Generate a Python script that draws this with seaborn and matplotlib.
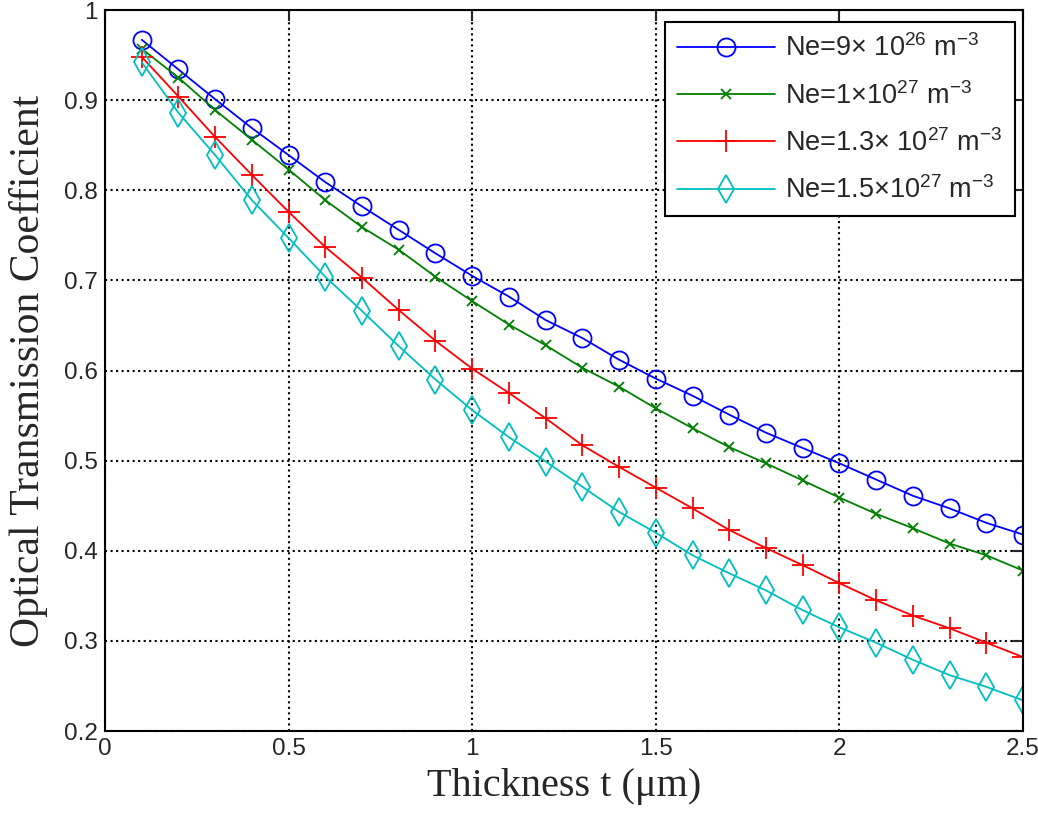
import matplotlib
matplotlib.use("Agg")
import matplotlib.pyplot as plt
import seaborn as sns
import pandas as pd

# thickness in micrometers
thickness = [0.1, 0.2, 0.3, 0.4, 0.5, 0.6, 0.7, 0.8, 0.9, 1.0, 1.1, 1.2, 1.3,
             1.4, 1.5, 1.6, 1.7, 1.8, 1.9, 2.0, 2.1, 2.2, 2.3, 2.4, 2.5]

ne_9e26 = [0.967, 0.934, 0.901, 0.869, 0.839, 0.809, 0.782, 0.756, 0.730, 0.705,
           0.682, 0.656, 0.636, 0.612, 0.591, 0.572, 0.551, 0.531, 0.514, 0.497,
           0.479, 0.461, 0.447, 0.431, 0.418]
ne_1e27 = [0.957, 0.925, 0.889, 0.856, 0.823, 0.789, 0.759, 0.734, 0.704, 0.677,
           0.651, 0.628, 0.603, 0.582, 0.558, 0.536, 0.515, 0.497, 0.478, 0.459,
           0.441, 0.425, 0.408, 0.395, 0.378]
ne_13e27 = [0.948, 0.904, 0.859, 0.817, 0.776, 0.737, 0.703, 0.667, 0.633, 0.602,
            0.575, 0.547, 0.517, 0.493, 0.470, 0.447, 0.423, 0.403, 0.384, 0.364,
            0.345, 0.328, 0.314, 0.298, 0.282]
ne_15e27 = [0.942, 0.886, 0.839, 0.789, 0.747, 0.704, 0.666, 0.627, 0.590, 0.556,
            0.526, 0.499, 0.471, 0.443, 0.420, 0.395, 0.375, 0.356, 0.334, 0.315,
            0.298, 0.279, 0.262, 0.249, 0.234]

labels = [r"Ne=9$\times$ 10$^{26}$ m$^{-3}$",
          r"Ne=1$\times$10$^{27}$ m$^{-3}$",
          r"Ne=1.3$\times$ 10$^{27}$ m$^{-3}$",
          r"Ne=1.5$\times$10$^{27}$ m$^{-3}$"]

sns.set_style("white")
plt.rcParams["font.family"] = ["Liberation Sans", "DejaVu Sans"]
plt.rcParams["mathtext.fontset"] = "custom"
plt.rcParams["mathtext.rm"] = "Liberation Sans"

fig = plt.figure(figsize=(10.38, 8.21), dpi=100)
ax = fig.add_axes([105 / 1038, 1 - 731 / 821, 918 / 1038, 721 / 821])

# data, colour, marker, size, open face?
series = [
    (ne_9e26, "#0000ff", "o", 13, True),
    (ne_1e27, "#008000", "x", 7, False),
    (ne_13e27, "#ff0000", "+", 16, False),
    (ne_15e27, "#00bfbf", "d", 14, True),
]

for (vals, col, mk, ms, hollow), lab in zip(series, labels):
    df = pd.DataFrame({"t": thickness, "T": vals})
    sns.lineplot(data=df, x="t", y="T", ax=ax, color=col, marker=mk,
                 markersize=ms, markeredgewidth=1.3, linewidth=1.3,
                 markeredgecolor=col,
                 markerfacecolor="none" if hollow else col,
                 label=lab)

ax.set_xlim(0, 2.5)
ax.set_ylim(0.2, 1.0)
ax.set_xticks([0, 0.5, 1, 1.5, 2, 2.5])
ax.set_xticklabels(["0", "0.5", "1", "1.5", "2", "2.5"])
ax.set_yticks([0.2, 0.3, 0.4, 0.5, 0.6, 0.7, 0.8, 0.9, 1.0])
ax.set_yticklabels(["0.2", "0.3", "0.4", "0.5", "0.6", "0.7", "0.8", "0.9", "1"])
ax.tick_params(direction="in", length=8, width=1.5, labelsize=17.5,
               top=True, right=True, pad=5)
ax.grid(True, linestyle=":", color="black", linewidth=1.5)
for s in ax.spines.values():
    s.set_color("black")
    s.set_linewidth(1.5)

ax.set_xlabel("Thickness t (μm)", family="Liberation Serif", fontsize=29, labelpad=6)
ax.set_ylabel("Optical Transmission Coefficient", family="Liberation Serif",
              fontsize=30, labelpad=12)

leg = ax.legend(loc="upper right", fontsize=19.5, frameon=True, fancybox=False,
                edgecolor="black", framealpha=1, handlelength=3.6,
                handletextpad=0.4, borderpad=0.45, labelspacing=0.72,
                borderaxespad=0, bbox_to_anchor=(0.991, 0.983))
leg.get_frame().set_linewidth(1.5)

fig.savefig("out.png", dpi=100)
